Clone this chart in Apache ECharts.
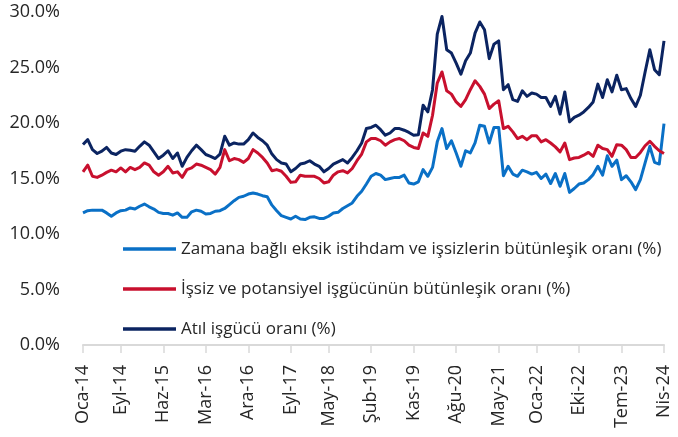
<!DOCTYPE html>
<html>
<head>
<meta charset="utf-8">
<script src="https://cdn.jsdelivr.net/npm/echarts@6/dist/echarts.min.js"></script>
<style>
html, body { margin: 0; padding: 0; background: #fff; }
#chart { width: 678px; height: 437px; }
</style>
</head>
<body>
<div id="chart"></div>
<script>
// aylar: Oca-14 .. Nis-24
const monthNames = ['Oca', 'Şub', 'Mar', 'Nis', 'May', 'Haz', 'Tem', 'Ağu', 'Eyl', 'Eki', 'Kas', 'Ara']
const years = [14, 15, 16, 17, 18, 19, 20, 21, 22, 23, 24]
const categories = []
years.forEach(y => monthNames.forEach((m, i) => {
	if (y < 24 || i < 4) categories.push(m + '-' + y)
}))

const tickLabels = ['Oca-14', 'Eyl-14', 'Haz-15', 'Mar-16', 'Ara-16', 'Eyl-17', 'May-18', 'Şub-19',
	'Kas-19', 'Ağu-20', 'May-21', 'Oca-22', 'Eki-22', 'Tem-23', 'Nis-24']

const seriesNames = [
	'Zamana bağlı eksik istihdam ve işsizlerin bütünleşik oranı (%)',
	'İşsiz ve potansiyel işgücünün bütünleşik oranı (%)',
	'Atıl işgücü oranı (%)',
]

const zamanaBagli = [
	11.9, 12.1, 12.15, 12.15, 12.15, 11.9, 11.6, 11.9, 12.1, 12.15,
	12.35, 12.25, 12.5, 12.7, 12.45, 12.25, 11.95, 11.85, 11.85, 11.7,
	11.9, 11.5, 11.5, 12.0, 12.15, 12.05, 11.8, 11.85, 12.05, 12.1,
	12.3, 12.65, 13.0, 13.3, 13.4, 13.6, 13.7, 13.6, 13.45, 13.35,
	12.6, 12.1, 11.65, 11.5, 11.35, 11.6, 11.35, 11.3, 11.5, 11.55,
	11.4, 11.4, 11.6, 11.9, 11.95, 12.3, 12.55, 12.8, 13.4, 13.85,
	14.5, 15.2, 15.45, 15.3, 14.9, 15.0, 15.1, 15.1, 15.3, 14.6,
	14.5, 14.7, 15.8, 15.2, 16.0, 18.3, 19.5, 17.7, 18.4, 17.3,
	16.1, 17.5, 17.3, 18.2, 19.8, 19.7, 18.2, 19.6, 19.6, 15.25,
	16.1, 15.4, 15.2, 15.75, 15.6, 15.4, 15.55, 15.0, 15.4, 14.55,
	15.45, 14.3, 15.45, 13.75, 14.1, 14.5, 14.6, 14.9, 15.35, 16.1,
	15.3, 17.05, 16.1, 16.65, 14.9, 15.25, 14.7, 14.0, 14.9, 16.4,
	17.9, 16.45, 16.3, 19.95,
]

const issizPotansiyel = [
	15.6, 16.2, 15.2, 15.1, 15.3, 15.55, 15.75, 15.6, 15.95, 15.6,
	16.0, 15.8, 16.0, 16.4, 16.2, 15.6, 15.3, 15.6, 16.1, 15.5,
	15.6, 15.1, 15.8, 15.95, 16.3, 16.2, 16.0, 15.8, 15.4, 16.0,
	17.6, 16.6, 16.8, 16.7, 16.45, 16.8, 17.6, 17.3, 16.9, 16.4,
	15.7, 15.8, 15.65, 15.2, 14.65, 14.7, 15.3, 15.2, 15.2, 15.2,
	15.0, 14.6, 14.7, 15.3, 15.6, 15.7, 15.5, 15.9, 16.6, 17.2,
	18.3, 18.6, 18.6, 18.4, 18.0, 18.3, 18.5, 18.6, 18.4, 18.0,
	17.8, 17.7, 19.1, 18.8, 20.7, 23.6, 24.6, 22.9, 22.6, 21.9,
	21.5, 22.1, 23.0, 23.8, 23.3, 22.6, 21.3, 21.7, 22.0, 19.5,
	19.7, 19.2, 18.6, 18.8, 18.5, 18.85, 18.85, 18.3, 18.5, 18.2,
	17.85, 17.4, 18.2, 16.7, 16.85, 16.9, 17.1, 17.35, 17.0, 18.0,
	17.7, 17.6, 17.0, 18.05, 18.0, 17.6, 16.9, 16.9, 17.35, 17.95,
	18.35, 17.9, 17.5, 17.25,
]

const atilIsgucu = [
	18.06, 18.5, 17.6, 17.25, 17.46, 17.8, 17.3, 17.16, 17.46, 17.6,
	17.55, 17.46, 17.9, 18.3, 18.0, 17.4, 16.8, 17.1, 17.5, 16.8,
	17.3, 16.1, 16.9, 17.5, 18.0, 17.6, 17.16, 17.0, 16.8, 17.2,
	18.8, 18.0, 18.2, 18.1, 18.1, 18.5, 19.1, 18.7, 18.4, 18.0,
	17.2, 16.7, 16.4, 16.3, 15.6, 15.9, 16.3, 16.4, 16.6, 16.3,
	16.1, 15.6, 15.9, 16.3, 16.5, 16.7, 16.4, 16.9, 17.5, 18.2,
	19.5, 19.6, 19.8, 19.4, 18.9, 19.1, 19.5, 19.5, 19.35, 19.15,
	18.9, 18.95, 21.6, 21.0, 23.0, 28.0, 29.6, 26.6, 26.3, 25.4,
	24.4, 25.6, 26.3, 28.1, 29.1, 28.4, 25.8, 27.1, 27.4, 23.0,
	23.45, 22.1, 21.95, 22.9, 22.4, 22.7, 22.6, 22.3, 22.3, 21.5,
	22.4, 20.8, 22.8, 20.1, 20.5, 20.7, 21.0, 21.4, 21.9, 23.5,
	22.3, 23.9, 22.8, 24.3, 23.0, 23.1, 22.2, 21.5, 22.5, 24.6,
	26.6, 24.8, 24.35, 27.4,
]

const colors = ['#0A70C6', '#C8102E', '#0B2461']
const font = '"Open Sans", "Noto Sans", sans-serif'
const showTick = (idx) => tickLabels.includes(categories[idx])

const chart = echarts.init(document.getElementById('chart'))
chart.setOption({
	animation: false,
	color: colors,
	grid: { left: 83, right: 14, top: 12, bottom: 92 },
	legend: {
		orient: 'vertical',
		left: 118,
		top: 232,
		icon: 'rect',
		itemWidth: 53,
		itemHeight: 3.5,
		itemGap: 16,
		textStyle: { fontFamily: font, fontSize: 17, color: '#262626', lineHeight: 24 },
		data: seriesNames,
	},
	xAxis: {
		type: 'category',
		data: categories,
		boundaryGap: false,
		axisLine: { lineStyle: { color: '#D9D9D9', width: 2 } },
		axisTick: { show: true, interval: showTick, length: 8, lineStyle: { color: '#D9D9D9', width: 1.5 } },
		axisLabel: {
			interval: showTick,
			rotate: 90,
			margin: 20,
			fontFamily: font,
			fontSize: 18,
			color: '#262626',
		},
		splitLine: { show: false },
	},
	yAxis: {
		type: 'value',
		min: 0,
		max: 30,
		interval: 5,
		axisLine: { show: false },
		axisTick: { show: false },
		splitLine: { show: false },
		axisLabel: {
			margin: 23,
			fontFamily: font,
			fontSize: 18,
			color: '#262626',
			formatter: v => v.toFixed(1) + '%',
		},
	},
	series: [zamanaBagli, issizPotansiyel, atilIsgucu].map((d, i) => ({
		name: seriesNames[i],
		type: 'line',
		data: d,
		symbol: 'none',
		lineStyle: { width: 3, join: 'round' },
	})),
})
</script>
</body>
</html>
